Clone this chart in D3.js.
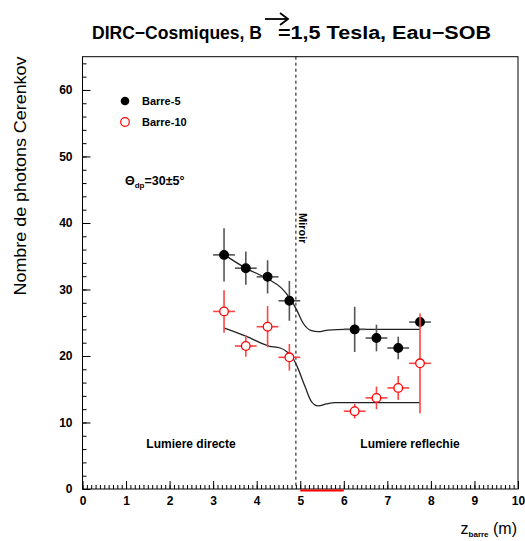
<!DOCTYPE html>
<html><head><meta charset="utf-8">
<script src="https://cdn.jsdelivr.net/npm/d3@7"></script>
<style>
html,body{margin:0;padding:0;background:#fff;}
text{font-family:"Liberation Sans",Arial,sans-serif;}
</style>
</head><body>
<svg id="c" width="525" height="541"></svg>
<script>
// ---- data ----
const zPos = [3.25, 3.75, 4.25, 4.75, 6.25, 6.75, 7.25, 7.75];
const zErr = [0.25, 0.25, 0.25, 0.25, 0.25, 0.25, 0.25, 0.25];
const barre5 = [35.2, 33.2, 31.9, 28.3, 24.0, 22.7, 21.2, 25.1];
const barre5Err = [4.0, 2.5, 2.5, 3.0, 3.4, 2.0, 1.7, 0.6];
const barre10 = [26.7, 21.5, 24.4, 19.8, 11.7, 13.7, 15.2, 18.9];
const barre10Err = [3.2, 1.6, 3.1, 2.0, 1.1, 1.7, 1.8, 7.5];
const fit5 = [[3.26,35.2],[3.75,33.2],[4.25,31.6],[4.57,30.2],[4.76,28.7],[4.92,26.9],[5.06,25.0],[5.26,23.8],[5.41,23.65],[5.64,23.9],[6.03,24.0],[7.75,24.0]];
const fit10 = [[3.26,24.2],[3.75,23.0],[4.28,21.5],[4.54,21.2],[4.70,20.6],[4.83,19.7],[4.93,18.4],[5.11,15.4],[5.26,13.1],[5.41,12.5],[5.60,12.8],[5.80,13.0],[7.75,13.0]];
const xTicks = [0,1,2,3,4,5,6,7,8,9,10];
const yTicks = [0,10,20,30,40,50,60];
const mirrorZ = 4.9;
const redSegment = [5, 6];

const svg = d3.select("#c");
const x = d3.scaleLinear().domain([0,10]).range([82.5,518]);
const y = d3.scaleLinear().domain([0,65]).range([489,56.7]);

// frame
svg.append("rect").attr("x",x(0)).attr("y",y(65)).attr("width",x(10)-x(0)).attr("height",y(0)-y(65))
  .attr("fill","none").attr("stroke","#000").attr("stroke-width",1);

// axes
function styleAxis(g){ g.select(".domain").remove(); g.selectAll("line").attr("stroke","#000"); }
const xa = svg.append("g").attr("transform",`translate(0,${y(0)})`)
  .call(d3.axisBottom(x).tickValues(xTicks).tickSize(-8).tickPadding(7).tickFormat(d3.format("d")));
styleAxis(xa);
xa.selectAll("text").attr("font-size",12).attr("font-weight","bold").attr("fill","#000");
const xm = svg.append("g").attr("transform",`translate(0,${y(0)})`)
  .call(d3.axisBottom(x).tickValues(d3.range(0,100).map(i=>i/10)).tickSize(-4).tickFormat(""));
styleAxis(xm);

const ya = svg.append("g").attr("transform",`translate(${x(0)},0)`)
  .call(d3.axisLeft(y).tickValues(yTicks).tickSize(-8).tickPadding(10).tickFormat(d3.format("d")));
styleAxis(ya);
ya.selectAll("text").attr("font-size",12).attr("font-weight","bold").attr("fill","#000");
const ym = svg.append("g").attr("transform",`translate(${x(0)},0)`)
  .call(d3.axisLeft(y).tickValues(d3.range(0,33).map(i=>i*2)).tickSize(-4).tickFormat(""));
styleAxis(ym);

// mirror dashed line
svg.append("line").attr("x1",x(mirrorZ)).attr("x2",x(mirrorZ)).attr("y1",y(65)).attr("y2",y(0))
  .attr("stroke","#000").attr("stroke-width",1).attr("stroke-dasharray","3,3");
svg.append("text").attr("transform",`translate(${x(mirrorZ)+3},${y(41.5)}) rotate(90)`)
  .attr("font-size",11).attr("font-weight","bold").text("Miroir");

// red segment on axis
svg.append("line").attr("x1",x(redSegment[0])).attr("x2",x(redSegment[1])).attr("y1",y(0)+1.5).attr("y2",y(0)+1.5)
  .attr("stroke","#f00").attr("stroke-width",2);

// fit curves
const line = d3.line().x(d=>x(d[0])).y(d=>y(d[1])).curve(d3.curveMonotoneX);
svg.append("path").datum(fit5).attr("d",line).attr("fill","none").attr("stroke","#222").attr("stroke-width",1.3);
svg.append("path").datum(fit10).attr("d",line).attr("fill","none").attr("stroke","#222").attr("stroke-width",1.3);

// data points
function drawSeries(vals, errs, barColor, fill, stroke){
  const g = svg.append("g");
  vals.forEach((v,i)=>{
    g.append("line").attr("x1",x(zPos[i]-zErr[i])).attr("x2",x(zPos[i]+zErr[i])).attr("y1",y(v)).attr("y2",y(v))
      .attr("stroke",barColor).attr("stroke-width",1.6);
    g.append("line").attr("x1",x(zPos[i])).attr("x2",x(zPos[i])).attr("y1",y(v-errs[i])).attr("y2",y(v+errs[i]))
      .attr("stroke",barColor).attr("stroke-width",1.6);
  });
  vals.forEach((v,i)=>{
    g.append("circle").attr("cx",x(zPos[i])).attr("cy",y(v)).attr("r",4.3)
      .attr("fill",fill).attr("stroke",stroke).attr("stroke-width",1.3);
  });
}
drawSeries(barre5, barre5Err, "#555", "#000", "#000");
drawSeries(barre10, barre10Err, "#f44", "#fff", "#f00");

// legend
svg.append("circle").attr("cx",125).attr("cy",101).attr("r",4.3).attr("fill","#000");
svg.append("text").attr("x",142).attr("y",105).attr("font-size",11).attr("font-weight","bold").text("Barre-5");
svg.append("circle").attr("cx",125).attr("cy",122).attr("r",4.3).attr("fill","#fff").attr("stroke","#f00").attr("stroke-width",1.2);
svg.append("text").attr("x",142).attr("y",126).attr("font-size",11).attr("font-weight","bold").text("Barre-10");

// theta annotation
const th = svg.append("text").attr("x",125).attr("y",185).attr("font-size",12.5).attr("font-weight","bold");
th.append("tspan").text("Θ");
th.append("tspan").attr("font-size",8).attr("dy",3).text("dp");
th.append("tspan").attr("dy",-3).text("=30±5°");

// region labels
svg.append("text").attr("x",191).attr("y",448).attr("text-anchor","middle").attr("font-size",12).attr("font-weight","bold").text("Lumiere directe");
svg.append("text").attr("x",410).attr("y",448).attr("text-anchor","middle").attr("font-size",12).attr("font-weight","bold").text("Lumiere reflechie");

// title
svg.append("text").attr("x",92).attr("y",38.5).attr("font-size",18).attr("font-weight","bold")
  .attr("textLength",170).attr("lengthAdjust","spacingAndGlyphs").text("DIRC−Cosmiques, B");
svg.append("text").attr("x",278).attr("y",38.5).attr("font-size",18).attr("font-weight","bold")
  .attr("textLength",213).attr("lengthAdjust","spacingAndGlyphs").text("=1,5 Tesla, Eau−SOB");
svg.append("line").attr("x1",265).attr("x2",287).attr("y1",19).attr("y2",19).attr("stroke","#000").attr("stroke-width",1.8);
svg.append("path").attr("d","M280,13 L288,19 L280,25").attr("fill","none").attr("stroke","#000").attr("stroke-width",1.8);

// axis titles
svg.append("text").attr("transform","translate(26,176) rotate(-90)").attr("text-anchor","middle")
  .attr("font-size",17).attr("textLength",239).attr("lengthAdjust","spacingAndGlyphs").text("Nombre de photons Cerenkov");
const xt = svg.append("text").attr("x",517).attr("y",534).attr("text-anchor","end").attr("font-size",16);
xt.append("tspan").text("z");
xt.append("tspan").attr("font-size",8).attr("font-weight","bold").attr("dy",3).text("barre");
xt.append("tspan").attr("dy",-3).text(" (m)");
</script>
</body></html>
